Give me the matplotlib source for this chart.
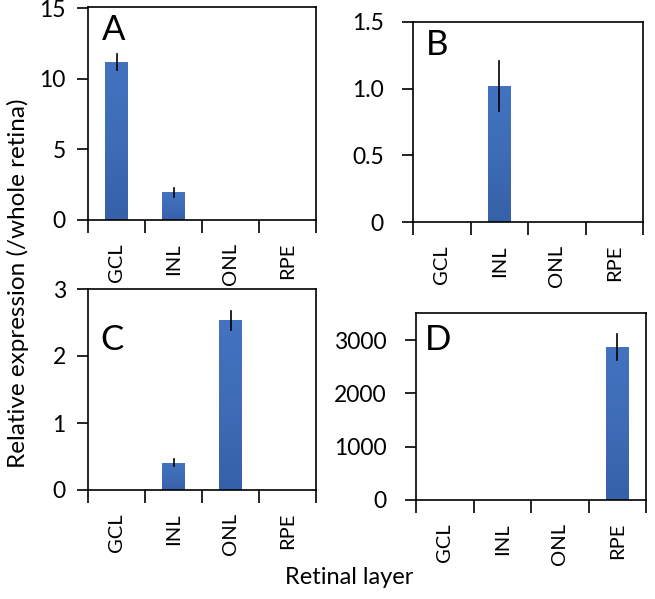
import numpy as np
import matplotlib
matplotlib.use('Agg')
import matplotlib.pyplot as plt
from matplotlib.ticker import FixedLocator
from matplotlib.colors import LinearSegmentedColormap

plt.rcParams['font.family'] = ['Lato', 'DejaVu Sans']

layers = ['GCL', 'INL', 'ONL', 'RPE']

# values (relative expression, /whole retina)
vals_a = [11.2, 1.96, 0, 0]
err_a = [0.57, 0.3, 0, 0]
vals_b = [0, 1.02, 0, 0]
err_b = [0, 0.19, 0, 0]
vals_c = [0, 0.41, 2.53, 0]
err_c = [0, 0.05, 0.14, 0]
vals_d = [0, 0, 0, 2870]
err_d = [0, 0, 0, 250]

panels = [
    # letter, vals, err, ylim, yticks, labels, rect(px: left, top, right, bottom), letter pos, ytick pad
    ('A', vals_a, err_a, 15.1, [0, 5, 10, 15], ['0', '5', '10', '15'], (88, 7, 316, 220), (0.06, 0.845), 8),
    ('B', vals_b, err_b, 1.5, [0, 0.5, 1.0, 1.5], ['0', '0.5', '1.0', '1.5'], (413, 22, 643, 222), (0.055, 0.834), 13),
    ('C', vals_c, err_c, 3.0, [0, 1, 2, 3], ['0', '1', '2', '3'], (88, 289, 316, 490), (0.055, 0.697), 8),
    ('D', vals_d, err_d, 3510, [0, 1000, 2000, 3000], ['0', '1000', '2000', '3000'], (416, 313, 646, 500), (0.04, 0.80), 13),
]

W, H = 655, 599
fig = plt.figure(figsize=(W / 100, H / 100), dpi=100)

# excel-ish vertical gradient on the bars
grad = LinearSegmentedColormap.from_list('bar', ['#3561A8', '#3E6CB6', '#4373C0'])
bw = 0.4

for letter, vals, err, ytop, yt, ytl, rect, lpos, ypad in panels:
    l, t, r, b = rect
    ax = fig.add_axes([l / W, 1 - b / H, (r - l) / W, (b - t) / H])
    x = np.arange(len(layers))
    bars = ax.bar(x, vals, width=bw, color='#3E6CB6', edgecolor='none', zorder=2)
    for bar in bars:
        h = bar.get_height()
        if h <= 0:
            continue
        x0 = bar.get_x()
        im = ax.imshow(np.linspace(0, 1, 64).reshape(-1, 1), cmap=grad, origin='lower',
                       extent=[x0, x0 + bw, 0, h], aspect='auto', zorder=2.1)
        im.set_clip_path(bar)
    for xi, v, e in zip(x, vals, err):
        if e > 0:
            ax.plot([xi, xi], [v - e, v + e], color='black', lw=1.2, zorder=3)
    ax.set_xlim(-0.5, 3.5)
    ax.set_ylim(0, ytop)
    ax.set_yticks(yt, ytl, fontsize=16.5)
    ax.set_xticks(x, layers, rotation=90, fontsize=14.5)
    ax.xaxis.set_minor_locator(FixedLocator([-0.5, 0.5, 1.5, 2.5, 3.5]))
    ax.tick_params(axis='x', which='major', length=0, pad=16.5)
    ax.tick_params(axis='x', which='minor', length=9, width=1.2, direction='out')
    ax.tick_params(axis='y', length=8, width=1.2, direction='out', pad=ypad)
    for sp in ax.spines.values():
        sp.set_linewidth(1.2)
    ax.text(lpos[0], lpos[1], letter, transform=ax.transAxes, fontsize=25,
            ha='left', va='baseline')

fig.text(18 / W, 1 - 283 / H, 'Relative expression (/whole retina)', rotation=90,
         ha='center', va='center', fontsize=17.5)
fig.text(349 / W, 1 - 578 / H, 'Retinal layer', ha='center', va='center', fontsize=17)

plt.savefig('out.png', dpi=100)
plt.close()
